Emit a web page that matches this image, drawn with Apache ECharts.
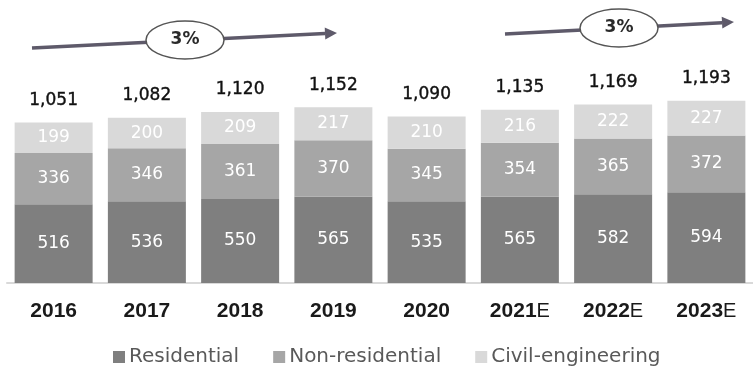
<!DOCTYPE html>
<html>
<head>
<meta charset="utf-8">
<script src="https://cdn.jsdelivr.net/npm/echarts@6/dist/echarts.min.js"></script>
<style>
  html, body { margin: 0; padding: 0; background: #ffffff; }
  #chart { width: 753px; height: 371px; }
</style>
</head>
<body>
<div id="chart"></div>
<script>
// Construction output by segment, 2016-2023E
const years = ['2016', '2017', '2018', '2019', '2020', '2021E', '2022E', '2023E'];
const residential = [516, 536, 550, 565, 535, 565, 582, 594];
const nonResidential = [336, 346, 361, 370, 345, 354, 365, 372];
const civilEngineering = [199, 200, 209, 217, 210, 216, 222, 227];
const totals = [1051, 1082, 1120, 1152, 1090, 1135, 1169, 1193];
const growthLabels = ['3%', '3%'];

const numFont = 'DejaVu Sans';
const segLabel = {
  show: true,
  position: 'inside',
  color: '#ffffff',
  fontFamily: numFont,
  fontSize: 17
};

const chart = echarts.init(document.getElementById('chart'), null, { renderer: 'canvas' });

const arrowColor = '#5e5a6a';

function arrow(x1, y1, x2, y2) {
  // shaft plus a triangular head pointing along the line
  const dx = x2 - x1, dy = y2 - y1;
  const len = Math.sqrt(dx * dx + dy * dy);
  const ux = dx / len, uy = dy / len;
  const headLen = 12, headHalf = 6;
  const bx = x2 - ux * headLen, by = y2 - uy * headLen;
  return [
    {
      type: 'line',
      shape: { x1: x1, y1: y1, x2: bx, y2: by },
      style: { stroke: arrowColor, lineWidth: 3.5 },
      z: 10
    },
    {
      type: 'polygon',
      shape: { points: [[x2, y2], [bx - uy * headHalf, by + ux * headHalf], [bx + uy * headHalf, by - ux * headHalf]] },
      style: { fill: arrowColor },
      z: 10
    }
  ];
}

function bubble(cx, cy, text) {
  return [
    {
      type: 'ellipse',
      shape: { cx: cx, cy: cy, rx: 39, ry: 19 },
      style: { fill: '#ffffff', stroke: '#555555', lineWidth: 1.5 },
      z: 11
    },
    {
      type: 'text',
      x: cx, y: cy,
      style: {
        text: text,
        fill: '#2a2a2a',
        font: 'bold 17px "DejaVu Sans"',
        textAlign: 'center',
        textVerticalAlign: 'middle'
      },
      z: 12
    }
  ];
}

const option = {
  backgroundColor: '#ffffff',
  animation: false,
  grid: { left: 7, top: 54, width: 754, bottom: 88, containLabel: false },
  legend: {
    left: 108,
    top: 342,
    itemWidth: 12,
    itemHeight: 12,
    itemGap: 34,
    icon: 'rect',
    textStyle: { fontFamily: 'DejaVu Sans', fontSize: 20, color: '#595959', padding: [0, 0, 0, -1] },
    data: ['Residential', 'Non-residential', 'Civil-engineering']
  },
  xAxis: {
    type: 'category',
    data: years,
    axisLine: { show: true, lineStyle: { color: '#d9d9d9', width: 2 } },
    axisTick: { show: false },
    axisLabel: {
      margin: 17,
      interval: 0,
      formatter: function (v) {
        if (v.endsWith('E')) return '{b|' + v.slice(0, -1) + '}{e|E}';
        return '{b|' + v + '}';
      },
      rich: {
        b: { fontFamily: 'Liberation Sans', fontWeight: 'bold', fontSize: 21, color: '#1a1a1a', lineHeight: 22 },
        e: { fontFamily: 'Liberation Sans', fontWeight: 'normal', fontSize: 20, color: '#1a1a1a', lineHeight: 22 }
      }
    }
  },
  yAxis: { type: 'value', min: 0, max: 1500, show: false, splitLine: { show: false } },
  series: [
    {
      name: 'Residential', type: 'bar', stack: 'total', barWidth: 78,
      itemStyle: { color: '#7f7f7f' }, label: segLabel, data: residential
    },
    {
      name: 'Non-residential', type: 'bar', stack: 'total', barWidth: 78,
      itemStyle: { color: '#a6a6a6' }, label: segLabel, data: nonResidential
    },
    {
      name: 'Civil-engineering', type: 'bar', stack: 'total', barWidth: 78,
      itemStyle: { color: '#d9d9d9' }, label: segLabel, data: civilEngineering
    },
    {
      // invisible points at each bar's total, carrying the total label
      name: 'Total', type: 'line', data: totals,
      symbol: 'circle', symbolSize: 1, showSymbol: true,
      itemStyle: { color: 'rgba(255,255,255,0)' },
      lineStyle: { width: 0, color: 'rgba(255,255,255,0)' }, silent: true, z: 5,
      label: {
        show: true, position: 'top', distance: 13,
        fontFamily: numFont, fontSize: 17, color: '#111111',
        textBorderColor: '#111111', textBorderWidth: 0.4,
        formatter: function (p) { return p.value.toLocaleString('en-US'); }
      }
    }
  ],
  graphic: [].concat(
    arrow(32, 48, 337, 33),
    bubble(185, 40, growthLabels[0]),
    arrow(505, 34, 734, 22),
    bubble(619, 28, growthLabels[1])
  )
};

chart.setOption(option);
</script>
</body>
</html>
